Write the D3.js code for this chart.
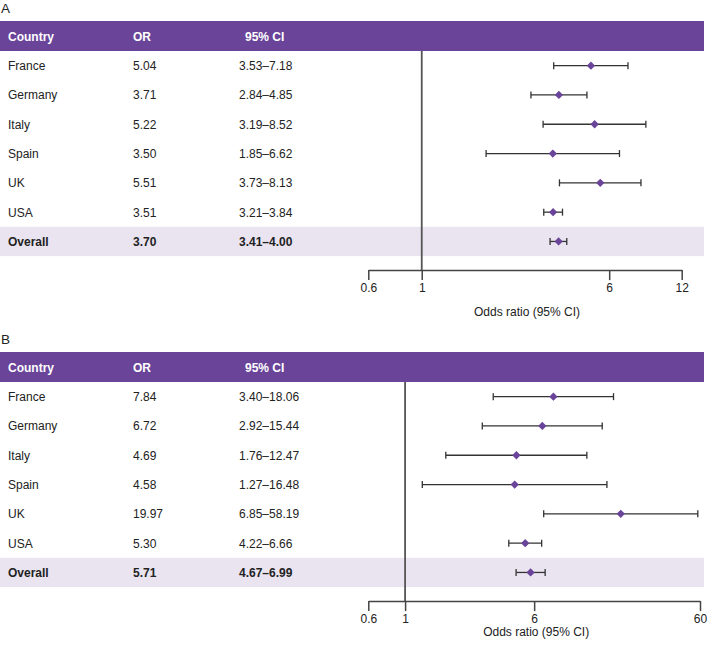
<!DOCTYPE html>
<html>
<head>
<meta charset="utf-8">
<script src="https://cdn.jsdelivr.net/npm/d3@7"></script>
<style>
  body { margin: 0; background: #fff; }
  svg { display: block; font-family: "Liberation Sans", Arial, sans-serif; }
</style>
</head>
<body>
<div id="chart"></div>
<script>
const countries = ['France', 'Germany', 'Italy', 'Spain', 'UK', 'USA', 'Overall'];

// panel A
const orA = [5.04, 3.71, 5.22, 3.50, 5.51, 3.51, 3.70];
const lowA = [3.53, 2.84, 3.19, 1.85, 3.73, 3.21, 3.41];
const highA = [7.18, 4.85, 8.52, 6.62, 8.13, 3.84, 4.00];
const ticksA = [0.6, 1, 6, 12];

// panel B
const orB = [7.84, 6.72, 4.69, 4.58, 19.97, 5.30, 5.71];
const lowB = [3.40, 2.92, 1.76, 1.27, 6.85, 4.22, 4.67];
const highB = [18.06, 15.44, 12.47, 16.48, 58.19, 6.66, 6.99];
const ticksB = [0.6, 1, 6, 60];

const purple = '#6a4499';
const shade = '#e9e4f0';
const W = 709, H = 646;

const svg = d3.select('#chart').append('svg')
  .attr('width', W)
  .attr('height', H);

function panel(label, top, ors, lows, highs, ticks, xRange, titleGap) {
  const g = svg.append('g').attr('transform', `translate(0, ${top})`);
  const headerH = 30;
  const rowH = 29.3;
  const tableR = 704;

  g.append('text')
    .attr('x', 1).attr('y', -8.5)
    .attr('font-size', 13.5)
    .attr('fill', '#222')
    .text(label);

  g.append('rect')
    .attr('x', 0).attr('y', 0)
    .attr('width', tableR).attr('height', headerH)
    .attr('fill', purple);

  const heads = [['Country', 8], ['OR', 133], ['95% CI', 245]];
  g.selectAll('text.head').data(heads).join('text')
    .attr('class', 'head')
    .attr('x', d => d[1])
    .attr('y', headerH / 2 + 4.5)
    .attr('font-size', 12)
    .attr('font-weight', 'bold')
    .attr('fill', '#fff')
    .text(d => d[0]);

  const y = d3.scaleBand()
    .domain(countries)
    .range([headerH, headerH + rowH * countries.length]);

  g.append('rect')
    .attr('x', 0).attr('y', y('Overall'))
    .attr('width', tableR).attr('height', y.bandwidth())
    .attr('fill', shade);

  const rows = countries.map((c, i) => ({ c, or: ors[i], lo: lows[i], hi: highs[i] }));
  const fmt = d3.format('.2f');

  const rowG = g.selectAll('g.row').data(rows).join('g')
    .attr('class', 'row')
    .attr('transform', d => `translate(0, ${y(d.c) + y.bandwidth() / 2})`)
    .attr('font-size', 12)
    .attr('fill', '#222')
    .attr('font-weight', d => d.c === 'Overall' ? 'bold' : 'normal');

  rowG.append('text').attr('x', 8).attr('y', 4.5).text(d => d.c);
  rowG.append('text').attr('x', 133).attr('y', 4.5).text(d => fmt(d.or));
  rowG.append('text').attr('x', 239).attr('y', 4.5).text(d => `${fmt(d.lo)}\u2013${fmt(d.hi)}`);

  const x = d3.scaleLog()
    .domain([ticks[0], ticks[ticks.length - 1]])
    .range(xRange);

  const axisY = headerH + rowH * countries.length + 14;

  // reference line at OR = 1
  g.append('line')
    .attr('x1', x(1)).attr('x2', x(1))
    .attr('y1', headerH).attr('y2', axisY)
    .attr('stroke', '#555')
    .attr('stroke-width', 1.8);

  const ci = rowG.append('g').attr('stroke', '#333').attr('stroke-width', 1.3);
  ci.append('line')
    .attr('x1', d => x(d.lo)).attr('x2', d => x(d.hi))
    .attr('y1', 0).attr('y2', 0);
  ci.append('line')
    .attr('x1', d => x(d.lo)).attr('x2', d => x(d.lo))
    .attr('y1', -3.5).attr('y2', 3.5);
  ci.append('line')
    .attr('x1', d => x(d.hi)).attr('x2', d => x(d.hi))
    .attr('y1', -3.5).attr('y2', 3.5);

  rowG.append('path')
    .attr('d', d3.symbol(d3.symbolDiamond2, 44))
    .attr('transform', d => `translate(${x(d.or)}, 0)`)
    .attr('fill', purple);

  const axis = d3.axisBottom(x)
    .tickValues(ticks)
    .tickFormat(d => String(d))
    .tickSize(10)
    .tickSizeOuter(0);

  const ax = g.append('g')
    .attr('transform', `translate(0, ${axisY})`)
    .call(axis);
  ax.select('.domain').attr('stroke', '#444').attr('stroke-width', 1.5);
  ax.selectAll('.tick line').attr('stroke', '#444').attr('stroke-width', 1.5);
  ax.selectAll('.tick text')
    .attr('font-family', '"Liberation Sans", Arial, sans-serif')
    .attr('font-size', 12)
    .attr('fill', '#222')
    .attr('dy', '0.35em')
    .attr('y', 18);

  g.append('text')
    .attr('x', (xRange[0] + xRange[1]) / 2 + 2)
    .attr('y', axisY + titleGap)
    .attr('text-anchor', 'middle')
    .attr('dy', '0.35em')
    .attr('font-size', 12)
    .attr('fill', '#222')
    .text('Odds ratio (95% CI)');
}

panel('A', 21, orA, lowA, highA, ticksA, [368.3, 681.7], 42);
panel('B', 352, orB, lowB, highB, ticksB, [368.3, 700], 31);
</script>
</body>
</html>
